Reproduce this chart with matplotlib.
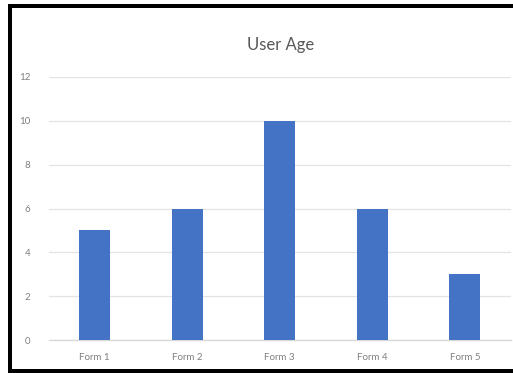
import matplotlib
matplotlib.use("Agg")
import matplotlib.pyplot as plt
from matplotlib.patches import Rectangle

categories = ["Form 1", "Form 2", "Form 3", "Form 4", "Form 5"]
values = [5, 6, 10, 6, 3]
yticks = [0, 2, 4, 6, 8, 10, 12]
title = "User Age"

plt.rcParams['font.family'] = ['Lato', 'DejaVu Sans']

W, H = 513, 373
fig = plt.figure(figsize=(W/100, H/100), dpi=100)
fig.patch.set_facecolor("white")

ax = fig.add_axes([48.5/W, 1 - 340/H, (511 - 48.5)/W, (340 - 77)/H])
x = list(range(len(categories)))
ax.bar(x, values, width=0.33, color="#4472C4", zorder=3)
ax.set_xlim(-0.5, len(categories) - 0.5)
ax.set_ylim(0, 12)
ax.set_yticks(yticks)
ax.set_yticklabels([str(t) for t in yticks], fontsize=7, color="#7F7F7F")
ax.set_xticks(x)
ax.set_xticklabels(categories, fontsize=7, color="#7F7F7F")
ax.tick_params(axis="x", length=0, pad=9)
ax.tick_params(axis="y", length=0, pad=13)
ax.grid(axis="y", color="#E3E3E3", linewidth=0.9, zorder=0)
for s in ["top", "right", "left"]:
    ax.spines[s].set_visible(False)
ax.spines["bottom"].set_color("#D9D9D9")
ax.spines["bottom"].set_linewidth(1.0)

fig.text(281/W, 1 - 45/H, title, fontsize=12, color="#595959", ha="center", va="center")

# black frame of the screenshot (left, top, bottom edges) as filled bands
def band(x0, y0, x1, y1):
    fig.patches.append(Rectangle((x0 / W, 1 - y1 / H), (x1 - x0) / W, (y1 - y0) / H,
                                 transform=fig.transFigure, facecolor="black",
                                 edgecolor="none", zorder=10))
band(8, 4, W, 8)
band(8, 369, W, 372.5)
band(8, 4, 12, 372.5)

fig.savefig("out.png", dpi=100, facecolor="white")
